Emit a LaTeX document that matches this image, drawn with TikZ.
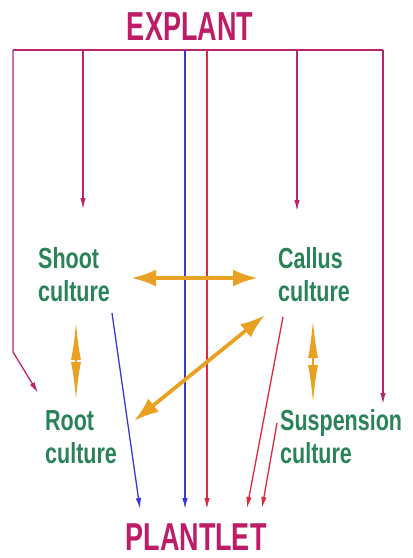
\documentclass[tikz,border=0pt]{standalone}
\usepackage{fontspec}
\setmainfont{Liberation Sans}
\usetikzlibrary{arrows.meta}
\definecolor{crim}{HTML}{BF1C68}
\definecolor{busc}{HTML}{B8246E}
\definecolor{redl}{HTML}{E0283A}
\definecolor{bluel}{HTML}{3A38D8}
\definecolor{orng}{HTML}{E9A124}
\definecolor{grn}{HTML}{2A8258}
\tikzset{
  title/.style={inner sep=0pt, text=crim, font=\bfseries\fontsize{27}{27}\selectfont},
  lbl/.style={inner sep=0pt, text=grn, anchor=base west, font=\bfseries\fontsize{21.5}{24.5}\selectfont},
  thin/.style={line width=1.3pt, -{Latex[length=11pt,width=5.5pt]}},
  bus/.style={thin, draw=busc},
  redarr/.style={thin, draw=redl, -{Latex[length=11pt,width=5.5pt,color=redl]}},
  bluearr/.style={thin, draw=bluel},
  bigarr/.style={line width=3.8pt, draw=orng, {Latex[length=25pt,width=17pt]}-{Latex[length=25pt,width=17pt]}},
  spindle/.style={line width=2.5pt, draw=orng, {Latex[length=39pt,width=10pt]}-{Latex[length=39pt,width=10pt]}}
}
\newcommand{\twol}[3]{\scalebox{1}[#1]{\begin{tabular}[t]{@{}l@{}}#2\\#3\end{tabular}}}
\begin{document}
\begin{tikzpicture}[x=1pt,y=-1pt]
\useasboundingbox (0,0) rectangle (413,558);
% titles
\node[title, anchor=base] (explant) at (190,40) {\scalebox{1}[1.5]{EXPLANT}};
\node[title, anchor=base] (plantlet) at (196,550) {\scalebox{1}[1.44]{PLANTLET}};
% labels
\node[lbl] (shoot) at (38,268) {\twol{1.35}{Shoot}{culture}};
\node[lbl] (callus) at (278,268) {\twol{1.35}{Callus}{culture}};
\node[lbl] (root) at (45,430) {\twol{1.35}{Root}{culture}};
\node[lbl] (susp) at (280,430) {\twol{1.35}{Suspension}{culture}};
% bus coordinates
\coordinate (bL) at (13,50);
\coordinate (bR) at (383,50);
\coordinate (b2) at (83,50);
\coordinate (b3) at (185,50);
\coordinate (b4) at (207,50);
\coordinate (b5) at (297,50);
\coordinate (bend) at (13,352);
\coordinate (rootIn) at (38,393);
\coordinate (shootIn) at (83,209);
\coordinate (callIn) at (297,211);
\coordinate (suspIn) at (383,404);
\coordinate (p1) at (140,509);
\coordinate (p2) at (185,509);
\coordinate (p3) at (207,509);
\coordinate (p4) at (247,508);
\coordinate (p5) at (262,508);
\coordinate (shootOut) at (112,313);
\coordinate (callOut) at (283,317);
\coordinate (suspOut) at (277,423);
% bus
\draw[busc, line width=2.2pt] (bL) -- (bR);
\draw[bus] (bL) -- (bend) -- (rootIn);
\draw[bus] (b2) -- (shootIn);
\draw[bus] (b5) -- (callIn);
\draw[bus] (bR) -- (suspIn);
\draw[bluearr] (b3) -- (p2);
\draw[redarr] (b4) -- (p3);
% to plantlet
\draw[bluearr] (shootOut) -- (p1);
\draw[redarr] (callOut) -- (p4);
\draw[redarr] (suspOut) -- (p5);
% orange arrows
\coordinate (h1) at (131,278);
\coordinate (h2) at (258,278);
\coordinate (v1a) at (76,321);
\coordinate (v1b) at (76,401);
\coordinate (v2a) at (313,319);
\coordinate (v2b) at (313,404);
\coordinate (d1) at (265,315);
\coordinate (d2) at (134,421);
\draw[bigarr] (h1) -- (h2);
\draw[bigarr] (d1) -- (d2);
\draw[spindle] (v1a) -- (v1b);
\draw[spindle] (v2a) -- (v2b);
\end{tikzpicture}
\end{document}
